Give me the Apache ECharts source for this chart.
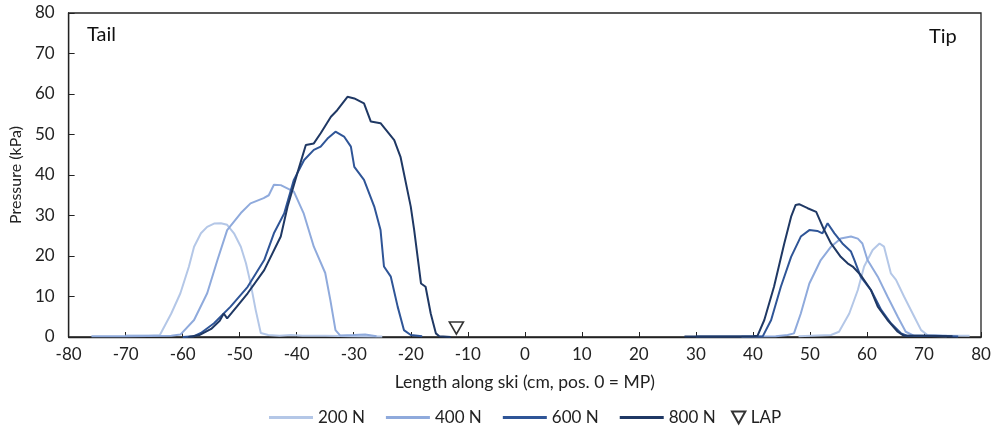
<!DOCTYPE html>
<html>
<head>
<meta charset="utf-8">
<script src="https://cdn.jsdelivr.net/npm/echarts@6/dist/echarts.min.js"></script>
<style>html,body{margin:0;padding:0;background:#fff}#c{width:998px;height:428px}</style>
</head>
<body>
<div id="c"></div>
<script>
var xTicks = { min: -80, max: 80, interval: 10 };
var yTicks = { min: 0, max: 80, interval: 10 };
var seriesNames = ['200 N', '400 N', '600 N', '800 N'];

var tail200 = [[-70,0.4],[-66,0.4],[-64,0.5],[-62,5.8],[-60.4,10.8],[-58.9,17.4],[-58,22.3],[-56.8,25.6],[-55.7,27.2],[-54.5,28],[-53.3,28.1],[-52.2,27.7],[-51,25.6],[-49.8,22.3],[-48.9,18.2],[-48.1,13.3],[-47.2,6.7],[-46.3,1],[-45,0.5],[-43,0.3],[-41,0.5],[-39,0.3],[-35,0.3],[-30,0.2],[-25,0.1]];
var tip200 = [[48,0.2],[53.7,0.5],[55.1,1.3],[56.9,5.8],[58.4,11.6],[59.5,17.4],[61,21.5],[62.2,23.1],[63,22.3],[64.2,15.7],[65.1,14.1],[66.5,10],[68.3,5],[69.5,1.7],[70.6,0.5],[74,0.4],[78,0.3]];

var tail400 = [[-76,0.2],[-70,0.2],[-62,0.3],[-60.4,0.6],[-58,4.2],[-55.7,10.8],[-53.9,19],[-52.2,26.4],[-49.8,30.6],[-48.1,33],[-45.8,34.3],[-44.9,35],[-44,37.6],[-42.8,37.5],[-40.5,35.9],[-38.8,30.6],[-37,22.3],[-35,15.8],[-34.1,9.1],[-33.2,1.7],[-32.4,0.4],[-30,0.5],[-28,0.6],[-26,0.2]];
var tip400 = [[38,0.1],[44,0.2],[46.1,0.5],[47.2,0.9],[48.4,5.8],[49.9,13.2],[51.9,19],[53.7,22.3],[55.4,24.3],[57.2,24.8],[58.4,24.3],[59.2,23.1],[60.1,19],[61.9,14.9],[63.6,10],[65.4,5],[66.8,1.3],[68.3,0.3],[74,0.2]];

var tail600 = [[-60,0],[-58,0.2],[-56.8,1],[-54.5,3.4],[-51.6,7.5],[-48.6,12.4],[-45.7,19],[-44,25.6],[-42.2,30.5],[-40.5,38.8],[-38.7,43.7],[-37,46.2],[-35.8,47],[-34.6,49],[-33.2,50.7],[-31.7,49.5],[-30.5,47],[-29.9,42],[-28.2,38.8],[-26.4,32.2],[-25.3,26.4],[-24.7,17.4],[-23.5,14.9],[-22.3,7.5],[-21.2,1.7],[-20,0.5],[-18,0.2]];
var tip600 = [[30,0.1],[41.7,0.1],[43.2,4.2],[44.9,12.4],[46.7,19.8],[48.4,24.8],[49.9,26.4],[51.3,26.2],[52.2,25.6],[53.1,28.1],[54.3,25.6],[55.7,23.1],[57.2,21.1],[57.8,19],[58.9,14.9],[60.7,11.6],[62.5,6.7],[64.2,3.4],[66,0.9],[67,0.3],[72,0.3],[76,0.1]];

var tail800 = [[-59,0],[-57,0.5],[-55,2],[-53.5,4],[-52.8,5.8],[-52.2,4.6],[-50.5,7.5],[-48.6,10.8],[-45.7,16.5],[-42.8,24.8],[-41.6,32.2],[-39.9,40.4],[-38.4,47.4],[-37,47.8],[-35.8,50.3],[-34,54.4],[-32.9,56],[-31.1,59.3],[-29.9,58.9],[-28.2,57.7],[-27,53.2],[-25.3,52.8],[-22.9,48.6],[-21.8,44.5],[-20,32.2],[-19.4,26.4],[-18.2,13.2],[-17.4,12.4],[-16.5,5.8],[-15.6,0.9],[-15,0.2],[-13,0]];
var tip800 = [[28,0.1],[40,0.2],[40.8,0.3],[42,4.2],[43.7,12.4],[45.5,23.1],[46.7,29.7],[47.5,32.6],[48.1,32.8],[49.6,31.8],[51.1,30.9],[52.5,26.4],[53.7,23.1],[55.4,19.8],[56.6,18.2],[57.5,17.4],[58.9,15.3],[60.7,11.6],[61.9,7.5],[63.6,4.2],[65.4,1.3],[66.5,0.3],[70,0.3],[75,0.2]];

var lapPoint = [[-12, 2.2]];

var colors = ['#b4c7e7', '#8faadc', '#2f5597', '#1f3864'];
var font = 'Lato, "Open Sans", sans-serif';

function joinParts(a, b) { return a.concat([[ (a[a.length-1][0] + b[0][0]) / 2, '-' ]], b); }
var allData = [joinParts(tail200, tip200), joinParts(tail400, tip400), joinParts(tail600, tip600), joinParts(tail800, tip800)];

var tri = 'path://M0,0L10,0L5,9Z';

var series = seriesNames.map(function (n, i) {
  return {
    name: n, type: 'line', data: allData[i], symbol: 'none', showSymbol: false,
    lineStyle: { color: colors[i], width: 2 }, itemStyle: { color: colors[i] },
    connectNulls: false, animation: false, z: 2 + i
  };
});
series.push({
  name: 'LAP', type: 'scatter', data: lapPoint, symbol: tri, symbolSize: [14, 12],
  itemStyle: { color: '#fff', borderColor: '#000', borderWidth: 1.6 }, z: 10, animation: false
});

var chart = echarts.init(document.getElementById('c'));
chart.setOption({
  animation: false,
  textStyle: { fontFamily: font },
  grid: { left: 67, right: 17, top: 13, bottom: 91, show: true, borderColor: '#222', borderWidth: 1.3 },
  xAxis: {
    type: 'value', min: xTicks.min, max: xTicks.max, interval: xTicks.interval,
    name: 'Length along ski (cm, pos. 0 = MP)', nameLocation: 'middle', nameGap: 36,
    nameTextStyle: { fontSize: 17.5, color: '#222', fontFamily: font },
    axisLine: { show: true, onZero: false, lineStyle: { color: '#222', width: 1.3 } },
    axisTick: { show: true, inside: true, length: 5, lineStyle: { color: '#222' } },
    axisLabel: { fontSize: 17, color: '#222', margin: 9, fontFamily: font },
    splitLine: { show: false }
  },
  yAxis: {
    type: 'value', min: yTicks.min, max: yTicks.max, interval: yTicks.interval,
    name: 'Pressure (kPa)', nameLocation: 'middle', nameGap: 42, nameRotate: 90,
    nameTextStyle: { fontSize: 16, color: '#222', fontFamily: font },
    axisLine: { show: true, onZero: false, lineStyle: { color: '#222', width: 1.3 } },
    axisTick: { show: true, inside: true, length: 6, lineStyle: { color: '#222' } },
    axisLabel: { fontSize: 17, color: '#222', margin: 14, fontFamily: font },
    splitLine: { show: false }
  },
  legend: [
    { data: seriesNames, left: 264, top: 404, itemWidth: 44, itemHeight: 3, itemGap: 21,
      icon: 'rect',
      textStyle: { fontSize: 17, color: '#222', fontFamily: font } },
    { data: [{ name: 'LAP', icon: tri }], left: 726, top: 404, itemWidth: 14, itemHeight: 12,
      textStyle: { fontSize: 17, color: '#222', fontFamily: font } }
  ],
  graphic: [
    { type: 'text', left: 87, top: 25, style: { text: 'Tail', fontSize: 20, fill: '#111', fontFamily: font } },
    { type: 'text', left: 929, top: 27, style: { text: 'Tip', fontSize: 20, fill: '#111', fontFamily: font } }
  ],
  series: series
});
</script>
</body>
</html>
